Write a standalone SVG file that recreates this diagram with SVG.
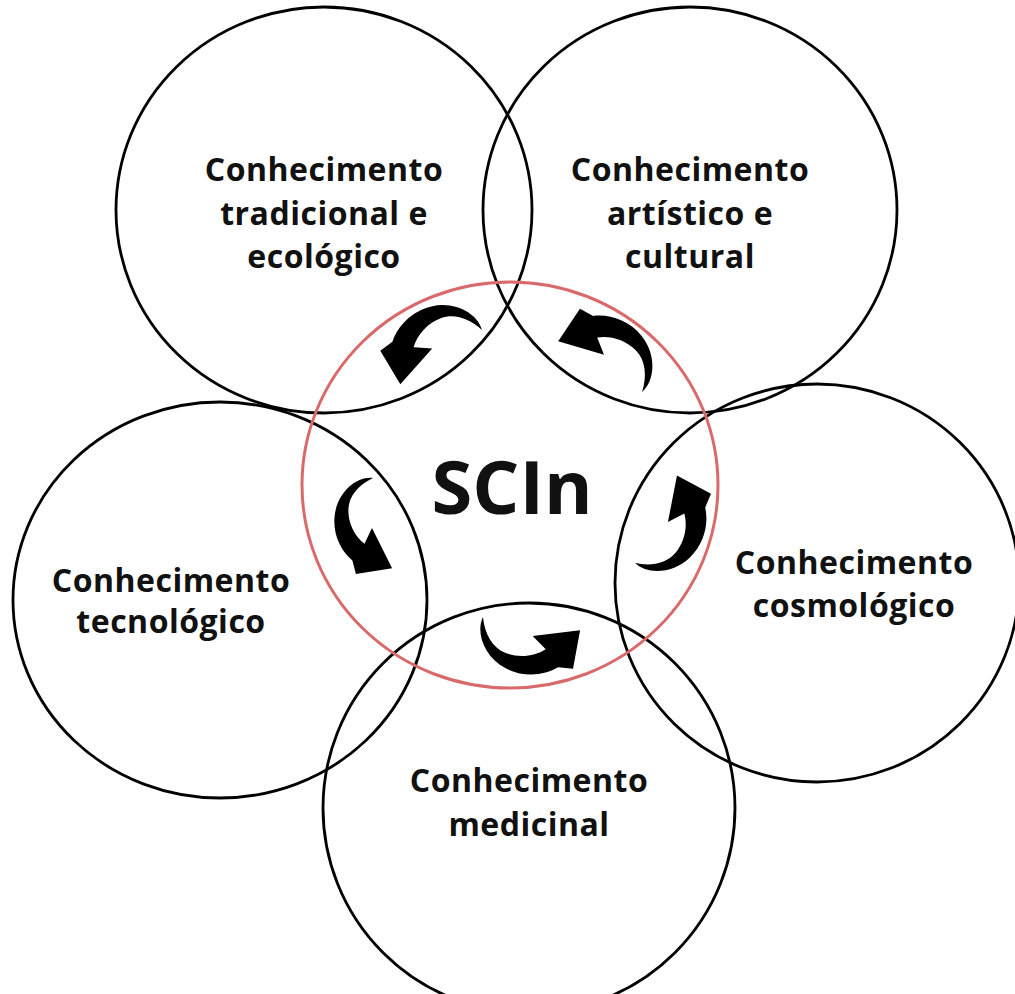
<svg xmlns="http://www.w3.org/2000/svg" width="1015" height="994" viewBox="0 0 1015 994">
  <defs>
    <style>
      .ring { fill: none; stroke: #000; stroke-width: 2.8; }
      .core { fill: none; stroke: #d96a6b; stroke-width: 3; }
      .lbl { font-family: "Open Sans", "Noto Sans", "Liberation Sans", sans-serif; font-weight: 700; font-size: 32px; letter-spacing: 0.5px; fill: #111; text-anchor: middle; }
      .title { font-family: "Open Sans", "Noto Sans", "Liberation Sans", sans-serif; font-weight: 700; font-size: 74px; fill: #111; text-anchor: middle; }
      .arw { fill: #000; }
    </style>
    <!-- curved hand-drawn arrow: tail at origin, tip near (97,0), bulging toward +y -->
    <path id="curl" class="arw" d="M0,0 C-5,16 7,39 30,47 C50,54 70,48 82,38 L97,37 L98,-2 L52,11 L67,22 C57,31 42,35 28,32 C14,29 4,16 0,0 Z"/>
  </defs>

  <rect width="1015" height="994" fill="#fff"/>

  <g id="node-tradicional">
    <ellipse class="ring" cx="324" cy="210" rx="208" ry="203"/>
    <text class="lbl" x="324" y="181">Conhecimento</text>
    <text class="lbl" x="324" y="225">tradicional e</text>
    <text class="lbl" x="324" y="268">ecológico</text>
  </g>

  <g id="node-artistico">
    <ellipse class="ring" cx="690" cy="210" rx="207" ry="203"/>
    <text class="lbl" x="690" y="181">Conhecimento</text>
    <text class="lbl" x="690" y="225">artístico e</text>
    <text class="lbl" x="690" y="268">cultural</text>
  </g>

  <g id="node-tecnologico">
    <ellipse class="ring" cx="220" cy="600" rx="207" ry="198"/>
    <text class="lbl" x="171" y="592">Conhecimento</text>
    <text class="lbl" x="171" y="633">tecnológico</text>
  </g>

  <g id="node-cosmologico">
    <ellipse class="ring" cx="817" cy="583" rx="202" ry="199"/>
    <text class="lbl" x="854" y="574">Conhecimento</text>
    <text class="lbl" x="854" y="617">cosmológico</text>
  </g>

  <g id="node-medicinal">
    <ellipse class="ring" cx="529" cy="808" rx="206" ry="205"/>
    <text class="lbl" x="529" y="792">Conhecimento</text>
    <text class="lbl" x="529" y="836">medicinal</text>
  </g>

  <g id="node-scin">
    <ellipse class="core" cx="510" cy="485" rx="208" ry="203"/>
    <text class="title" x="512" y="514">SCIn</text>
  </g>

  <g id="connectors">
    <use href="#curl" transform="translate(482,330) rotate(147.6)"/>
    <use href="#curl" transform="translate(642,392) rotate(-147.6)"/>
    <use href="#curl" transform="translate(635,563) rotate(-63.2) scale(0.99)"/>
    <use href="#curl" transform="translate(483,617) rotate(9)"/>
    <use href="#curl" transform="translate(373,478) rotate(79.2) scale(0.94)"/>
  </g>
</svg>
